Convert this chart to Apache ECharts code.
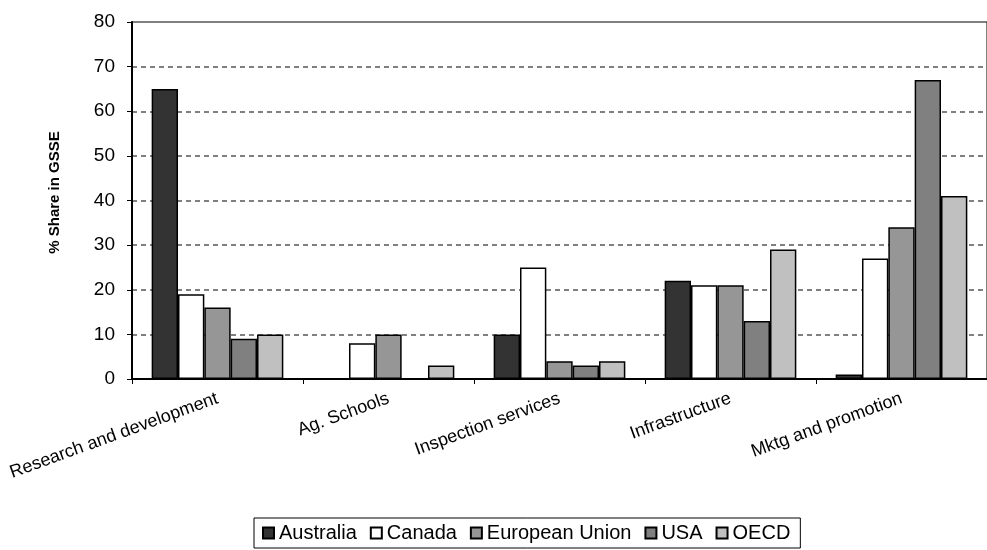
<!DOCTYPE html>
<html>
<head>
<meta charset="utf-8">
<script src="https://cdn.jsdelivr.net/npm/echarts@6/dist/echarts.min.js"></script>
<style>
  html, body { margin: 0; padding: 0; background: #fff; }
  #chart { width: 987px; height: 550px; }
</style>
</head>
<body>
<div id="chart"></div>
<script>
// Categories of general services support estimate (GSSE)
const categories = ['Research and development', 'Ag. Schools', 'Inspection services', 'Infrastructure', 'Mktg and promotion'];

// Share of each category in GSSE, %
const australia = [65, 0, 10, 22, 1];
const canada = [19, 8, 25, 21, 27];
const europeanUnion = [16, 10, 4, 21, 34];
const usa = [9, 0, 3, 13, 67];
const oecd = [10, 3, 4, 29, 41];

const seriesNames = ['Australia', 'Canada', 'European Union', 'USA', 'OECD'];
const seriesData = [australia, canada, europeanUnion, usa, oecd];
const seriesColors = ['#333333', '#ffffff', '#969696', '#808080', '#c0c0c0'];

const fontFamily = 'Liberation Sans, Arial, sans-serif';

const chart = echarts.init(document.getElementById('chart'), null, { renderer: 'canvas' });

chart.setOption({
  animation: false,
  backgroundColor: '#ffffff',
  textStyle: { fontFamily: fontFamily, color: '#000' },
  grid: {
    left: 132,
    top: 22,
    width: 866,
    height: 357,
    show: true,
    borderColor: '#000',
    borderWidth: 1,
    backgroundColor: 'transparent'
  },
  legend: {
    data: seriesNames,
    left: 254,
    top: 518,
    orient: 'horizontal',
    itemWidth: 11,
    itemHeight: 11,
    itemGap: 13,
    padding: [5, 10, 5, 8],
    borderColor: '#000',
    borderWidth: 1,
    textStyle: { fontSize: 20, fontFamily: fontFamily, color: '#000' },
    icon: 'rect'
  },
  xAxis: {
    type: 'category',
    data: categories,
    axisLine: { show: true, lineStyle: { color: '#000', width: 2 } },
    axisTick: { show: true, length: 5, lineStyle: { color: '#000', width: 1 } },
    axisLabel: {
      rotate: 20,
      fontSize: 18,
      color: '#000',
      margin: 19,
      fontFamily: fontFamily
    },
    splitLine: { show: false }
  },
  yAxis: {
    type: 'value',
    min: 0,
    max: 80,
    interval: 10,
    name: '% Share in GSSE',
    nameLocation: 'middle',
    nameGap: 70,
    nameTextStyle: { fontSize: 15, fontWeight: 'bold', color: '#000', fontFamily: fontFamily, padding: [0, 0, 0, 16] },
    axisLine: { show: true, lineStyle: { color: '#000', width: 2 } },
    axisTick: { show: true, length: 5, inside: false, lineStyle: { color: '#000', width: 1 } },
    axisLabel: { fontSize: 19, color: '#000', margin: 17, fontFamily: fontFamily },
    splitLine: { show: true, lineStyle: { color: '#808080', width: 2, type: [5, 4] } }
  },
  series: seriesNames.map((name, i) => ({
    name: name,
    type: 'bar',
    data: seriesData[i],
    barGap: '0%',
    barCategoryGap: '23%',
    itemStyle: { color: seriesColors[i], borderColor: '#000', borderWidth: 1.5 },
    emphasis: { disabled: true }
  }))
});
</script>
</body>
</html>
